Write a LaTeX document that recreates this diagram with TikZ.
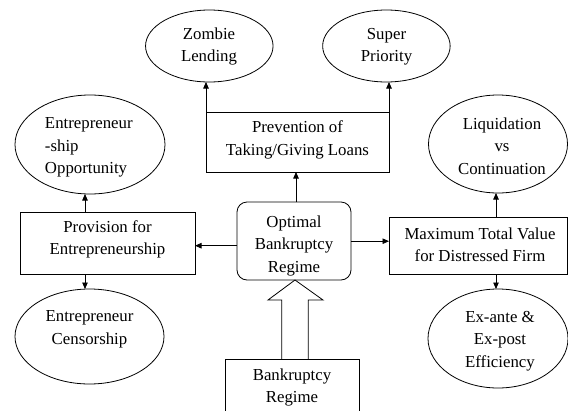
\documentclass[tikz,border=0pt]{standalone}
\usepackage{fontspec}
\setmainfont{Liberation Serif}
\newfontfamily\timesfont{Liberation Serif}
\usetikzlibrary{arrows.meta,calc,shapes.geometric}
\begin{document}
\begin{tikzpicture}[x=1pt,y=-1pt,
  every node/.style={inner sep=0pt,outer sep=0pt},
  lw/.style={line width=0.8pt},
  ell/.style={draw,lw,ellipse},
  box/.style={draw,lw,rectangle},
  txt/.style={font=\timesfont\fontsize{16.8}{22.5}\selectfont,align=center},
  arr/.style={lw,-{Triangle[length=6.5pt,width=5.5pt]}}]
\useasboundingbox (0,0) rectangle (568,410);
\clip (0,0) rectangle (568,410);
% ellipses
\node[ell,minimum width=127.5pt,minimum height=72pt] (zl) at (209.3,46) {};
\node[ell,minimum width=127.5pt,minimum height=72pt] (sp) at (386.4,46) {};
\node[ell,minimum width=150pt,minimum height=99pt] (eo) at (90,144.5) {};
\node[ell,minimum width=139pt,minimum height=98pt] (lc) at (498,144) {};
\node[ell,minimum width=149pt,minimum height=95pt] (ec) at (89.5,336.5) {};
\node[ell,minimum width=140pt,minimum height=99pt] (ee) at (498,338.5) {};
% boxes
\node[box,minimum width=183pt,minimum height=60pt] (pv) at (297.5,142) {};
\node[box,minimum width=175pt,minimum height=62pt] (pr) at (107.5,243) {};
\node[box,rounded corners=10pt,minimum width=114pt,minimum height=78pt] (op) at (294,241) {};
\node[box,minimum width=178pt,minimum height=57pt] (mx) at (478,245.5) {};
\node[box,minimum width=134pt,minimum height=62pt] (br) at (292,390) {};
% texts
\node[txt] (tzl) at (209,46.5) {Zombie\\Lending};
\node[txt] (tsp) at (386.5,46.5) {Super\\Priority};
\node[txt] (tpv) at (297.5,140) {Prevention of\\Taking/Giving Loans};
\node[txt,align=left,anchor=west] (teo) at (45,147.5) {Entrepreneur\\-ship\\Opportunity};
\node[txt] (tlc) at (502,146) {Liquidation\\vs\\Continuation};
\node[txt] (tpr) at (107.5,239.5) {Provision for\\Entrepreneurship};
\node[txt] (top) at (294,245.5) {Optimal\\Bankruptcy\\Regime};
\node[txt] (tmx) at (480,244.5) {Maximum Total Value\\for Distressed Firm};
\node[txt] (tec) at (89.5,329.5) {Entrepreneur\\Censorship};
\node[txt] (tee) at (500,341) {Ex-ante \&\\Ex-post\\Efficiency};
\node[txt] (tbr) at (292,387.3) {Bankruptcy\\Regime};
% connectors
\draw[arr] (pv.north west) -- (pv.north west |- zl.south);
\draw[arr] (pv.north east) -- (pv.north east |- sp.south);
\draw[arr] ([xshift=2pt]op.north) -- ([xshift=2pt]op.north |- pv.south);
\draw[arr] ([yshift=-4.7pt]op.west) -- ([yshift=-4.7pt]op.west -| pr.east);
\draw[arr] ([yshift=-0.2pt]op.east) -- ([yshift=-0.2pt]op.east -| mx.west);
\draw[arr] ([xshift=-22.5pt]pr.north) -- ([xshift=-22.5pt]pr.north |- eo.south);
\draw[arr] ([xshift=-22.5pt]pr.south) -- ([xshift=-22.5pt]pr.south |- ec.north);
\draw[arr] ([xshift=18pt]mx.north) -- ([xshift=18pt]mx.north |- lc.south);
\draw[arr] ([xshift=18pt]mx.south) -- ([xshift=18pt]mx.south |- ee.north);
% block arrow
\coordinate (tip) at ([xshift=1pt]op.south);
\draw[lw,line join=miter] ($(br.north)+(-10.3,0)$) -- ($(br.north)+(-10.3,-59)$)
  -- ($(br.north)+(-24,-59)$) -- (tip) -- ($(br.north)+(31,-59)$)
  -- ($(br.north)+(16.3,-59)$) -- ($(br.north)+(16.3,0)$);
\end{tikzpicture}
\end{document}
